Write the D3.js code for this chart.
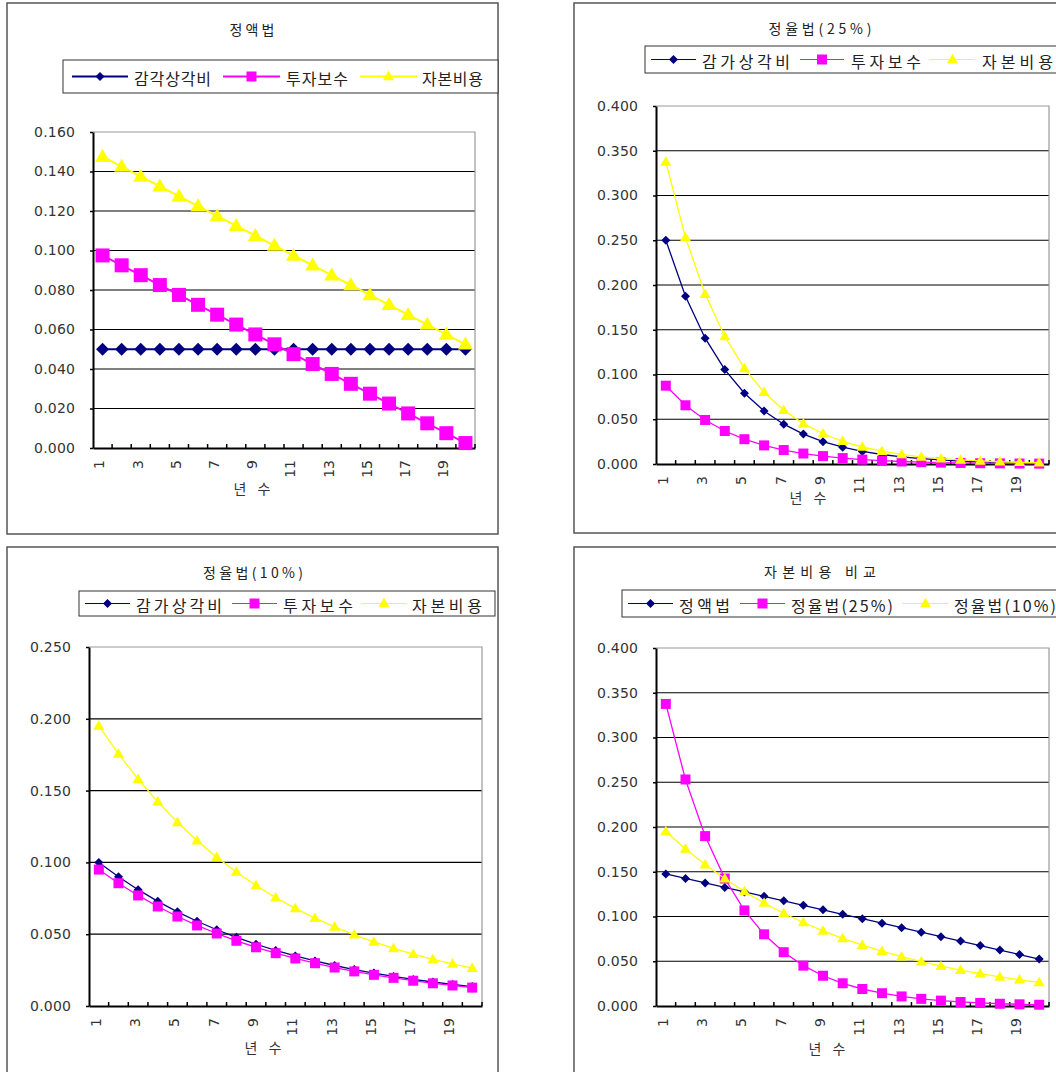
<!DOCTYPE html>
<html><head><meta charset="utf-8">
<script src="https://cdn.jsdelivr.net/npm/d3@7"></script>
<style>body{margin:0;background:#fff}svg{display:block}</style>
</head><body><svg id="c" width="1056" height="1072"></svg>
<script>
// ---------- DATA ----------
const years = [1,2,3,4,5,6,7,8,9,10,11,12,13,14,15,16,17,18,19,20];
const xTickYears = [1,3,5,7,9,11,13,15,17,19];

// 정액법
const slDep = [0.05,0.05,0.05,0.05,0.05,0.05,0.05,0.05,0.05,0.05,0.05,0.05,0.05,0.05,0.05,0.05,0.05,0.05,0.05,0.05];
const slRet = [0.0975,0.0925,0.0875,0.0825,0.0775,0.0725,0.0675,0.0625,0.0575,0.0525,0.0475,0.0425,0.0375,0.0325,0.0275,0.0225,0.0175,0.0125,0.0075,0.0025];
const slCap = [0.1475,0.1425,0.1375,0.1325,0.1275,0.1225,0.1175,0.1125,0.1075,0.1025,0.0975,0.0925,0.0875,0.0825,0.0775,0.0725,0.0675,0.0625,0.0575,0.0525];
// 정율법(25%)
const d25Dep = [0.2500,0.1875,0.1406,0.1055,0.0791,0.0593,0.0445,0.0334,0.0250,0.0188,0.0141,0.0106,0.0079,0.0059,0.0045,0.0033,0.0025,0.0019,0.0014,0.0011];
const d25Ret = [0.0875,0.0656,0.0492,0.0369,0.0277,0.0208,0.0156,0.0117,0.0088,0.0066,0.0049,0.0037,0.0028,0.0021,0.0016,0.0012,0.0009,0.0007,0.0005,0.0004];
const d25Cap = [0.3375,0.2531,0.1898,0.1424,0.1068,0.0801,0.0601,0.0451,0.0338,0.0254,0.0190,0.0143,0.0107,0.0080,0.0060,0.0045,0.0034,0.0025,0.0019,0.0014];
// 정율법(10%)
const d10Dep = [0.1000,0.0900,0.0810,0.0729,0.0656,0.0590,0.0531,0.0478,0.0430,0.0387,0.0349,0.0314,0.0282,0.0254,0.0229,0.0206,0.0185,0.0167,0.0150,0.0135];
const d10Ret = [0.0950,0.0855,0.0770,0.0693,0.0623,0.0561,0.0505,0.0454,0.0409,0.0368,0.0331,0.0298,0.0268,0.0241,0.0217,0.0196,0.0176,0.0158,0.0143,0.0128];
const d10Cap = [0.1950,0.1755,0.1580,0.1422,0.1279,0.1151,0.1036,0.0933,0.0839,0.0755,0.0680,0.0612,0.0551,0.0496,0.0446,0.0401,0.0361,0.0325,0.0293,0.0263];

const names3 = ["감각상각비","투자보수","자본비용"];
const names3b = ["감가상각비","투자보수","자본비용"];
const namesCmp = ["정액법","정율법(25%)","정율법(10%)"];
const titles = ["정액법","정율법(25%)","정율법(10%)","자본비용 비교"];
const xTitle = "년 수";
const yTicks16 = [0,0.02,0.04,0.06,0.08,0.10,0.12,0.14,0.16];
const yTicks40 = [0,0.05,0.10,0.15,0.20,0.25,0.30,0.35,0.40];
const yTicks25 = [0,0.05,0.10,0.15,0.20,0.25];

// ---------- DRAW ----------
const colors = ["#000080","#FF00FF","#FFFF00"];
const shapes = ["diamond","square","triangle"];
const KR = "'Noto Sans CJK KR','Noto Sans',sans-serif";
const NUM = "'DejaVu Sans','Liberation Sans',sans-serif";
const svg = d3.select("#c");
svg.append("rect").attr("width",1056).attr("height",1072).attr("fill","#fff");

function markerPath(shape, big){
  if(shape==="diamond"){ const s = big?6.5:4.5; return `M0,${-s}L${s},0L0,${s}L${-s},0Z`; }
  if(shape==="square"){ const s = big?7:5; return `M${-s},${-s}H${s}V${s}H${-s}Z`; }
  const w = big?7.5:5.5, h = big?13:9.5;
  return `M0,${-h*0.6}L${w},${h*0.4}L${-w},${h*0.4}Z`;
}

function panel(cfg){
  const g = svg.append("g");
  const [fx,fy,fw,fh] = cfg.frame;
  g.append("rect").attr("x",fx).attr("y",fy).attr("width",fw).attr("height",fh)
    .attr("fill","#fff").attr("stroke","#555").attr("stroke-width",1.5);
  // title
  g.append("text").attr("x",cfg.title[0]).attr("y",cfg.title[1]).attr("text-anchor","middle")
    .attr("dominant-baseline","central").attr("font-family",KR).attr("font-size",14).attr("fill","#222")
    .attr("textLength",cfg.title[2]).attr("lengthAdjust","spacing").text(cfg.titleText);
  // legend
  const lb = cfg.legend.box;
  g.append("rect").attr("x",lb[0]).attr("y",lb[1]).attr("width",lb[2]).attr("height",lb[3])
    .attr("fill","#fff").attr("stroke","#333").attr("stroke-width",1);
  const ly = lb[1]+lb[3]/2;
  cfg.legend.items.forEach((it,i)=>{
    const si = cfg.series[i];
    g.append("line").attr("x1",it[0]).attr("x2",it[1]).attr("y1",ly).attr("y2",ly)
      .attr("stroke",colors[si.c]).attr("stroke-width",cfg.big?2:1.2);
    g.append("path").attr("d",markerPath(shapes[si.c],false))
      .attr("transform",`translate(${(it[0]+it[1])/2},${ly})`).attr("fill",colors[si.c]);
    g.append("text").attr("x",it[2]).attr("y",ly+1).attr("dominant-baseline","central")
      .attr("font-family",KR).attr("font-size",16).attr("fill","#222")
      .attr("textLength",it[3]).attr("lengthAdjust","spacing").text(si.name);
  });
  // scales
  const p = cfg.plot;
  const x = d3.scaleBand().domain(years).range([p.l,p.r]);
  const y = d3.scaleLinear().domain([0,cfg.yMax]).range([p.b,p.t]);
  const bw = x.bandwidth();
  // gridlines
  g.append("g").selectAll("line").data(cfg.yTicks.slice(1,-1)).join("line")
    .attr("x1",p.l).attr("x2",p.r).attr("y1",d=>y(d)).attr("y2",d=>y(d))
    .attr("stroke","#000").attr("stroke-width",1.2);
  // plot border top/right
  g.append("path").attr("d",`M${p.l},${p.t}H${p.r}V${p.b}`).attr("fill","none")
    .attr("stroke","#999").attr("stroke-width",1.2);
  // y axis
  const ya = g.append("g").attr("transform",`translate(${p.l},0)`)
    .call(d3.axisLeft(y).tickValues(cfg.yTicks).tickFormat(d3.format(".3f")).tickSize(3).tickSizeOuter(0).tickPadding(15));
  ya.select(".domain").attr("stroke","#000").attr("stroke-width",2);
  ya.selectAll(".tick line").attr("stroke","#000").attr("stroke-width",1.5);
  ya.selectAll("text").attr("font-family",NUM).attr("font-size",14).attr("fill","#333")
    .attr("textLength",41).attr("lengthAdjust","spacing");
  // x axis
  const xa = g.append("g").attr("transform",`translate(0,${p.b})`)
    .call(d3.axisBottom(x).tickValues(xTickYears).tickSize(0).tickSizeOuter(0));
  xa.select(".domain").attr("stroke","#000").attr("stroke-width",2);
  xa.selectAll("text").attr("font-family",NUM).attr("font-size",14).attr("fill","#333")
    .attr("transform","rotate(-90)").attr("x",-12).attr("y",-3).attr("dy","0.35em")
    .style("text-anchor","end");
  // boundary ticks (inside)
  g.append("g").selectAll("line").data(years.slice(1).concat(["end"])).join("line")
    .attr("x1",d=>d==="end"?p.r:x(d)).attr("x2",d=>d==="end"?p.r:x(d))
    .attr("y1",p.b).attr("y2",p.b-4).attr("stroke","#000").attr("stroke-width",1.5);
  // x title
  g.append("text").attr("x",cfg.xlab[0]).attr("y",cfg.xlab[1]).attr("text-anchor","middle")
    .attr("dominant-baseline","central").attr("font-family",KR).attr("font-size",14).attr("fill","#333")
    .attr("textLength",37).attr("lengthAdjust","spacing").text(xTitle);
  // series
  const line = d3.line().x((d,i)=>x(years[i])+bw/2).y(d=>y(d));
  cfg.series.forEach(s=>{
    g.append("path").attr("d",line(s.values)).attr("fill","none")
      .attr("stroke",colors[s.c]).attr("stroke-width",cfg.big?2:1.3);
    g.append("g").selectAll("path").data(s.values).join("path")
      .attr("d",markerPath(shapes[s.c],cfg.big))
      .attr("transform",(d,i)=>`translate(${x(years[i])+bw/2},${y(d)})`)
      .attr("fill",colors[s.c]);
  });
}

panel({
  frame:[7,3,491,531], titleText:titles[0], title:[252,29,45], big:true,
  legend:{box:[63,60,435,33], items:[[72,128,134,77],[223,280,286,62],[360,417,422,61]]},
  plot:{l:93,r:475,t:132,b:448}, yMax:0.16, yTicks:yTicks16, xlab:[252,488],
  series:[{name:names3[0],values:slDep,c:0},{name:names3[1],values:slRet,c:1},{name:names3[2],values:slCap,c:2}]
});
panel({
  frame:[574,3,500,530], titleText:titles[1], title:[820,28,103], big:false,
  legend:{box:[645,46,420,27], items:[[651,696,702,88],[800,844,851,70],[930,975,982,71]]},
  plot:{l:656,r:1049,t:106,b:464}, yMax:0.40, yTicks:yTicks40, xlab:[808,497],
  series:[{name:names3b[0],values:d25Dep,c:0},{name:names3b[1],values:d25Ret,c:1},{name:names3b[2],values:d25Cap,c:2}]
});
panel({
  frame:[7,547,491,540], titleText:titles[2], title:[253,572,100], big:false,
  legend:{box:[79,591,416,25], items:[[85,130,136,86],[232,277,283,70],[362,406,412,70]]},
  plot:{l:89,r:482,t:647,b:1006}, yMax:0.25, yTicks:yTicks25, xlab:[263,1047],
  series:[{name:names3b[0],values:d10Dep,c:0},{name:names3b[1],values:d10Ret,c:1},{name:names3b[2],values:d10Cap,c:2}]
});
panel({
  frame:[574,547,500,540], titleText:titles[3], title:[820,571,112], big:false,
  legend:{box:[622,590,440,27], items:[[628,673,679,51],[740,785,791,102],[903,948,954,102]]},
  plot:{l:656,r:1049,t:648,b:1006}, yMax:0.40, yTicks:yTicks40, xlab:[827,1048],
  series:[{name:namesCmp[0],values:slCap,c:0},{name:namesCmp[1],values:d25Cap,c:1},{name:namesCmp[2],values:d10Cap,c:2}]
});
</script>
</body></html>
